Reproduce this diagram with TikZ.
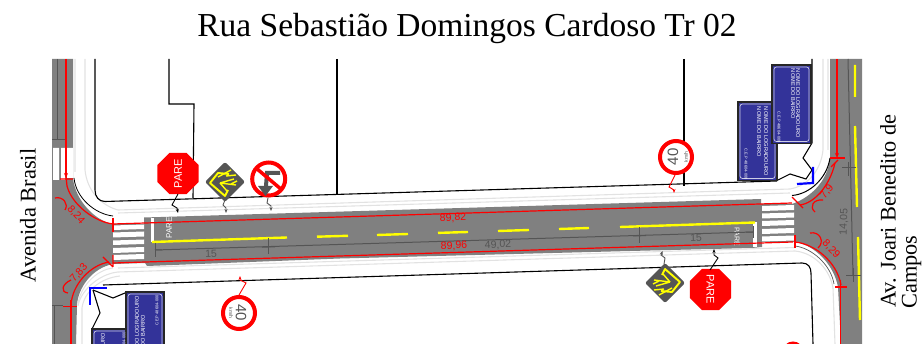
\documentclass[tikz,border=0pt]{standalone}
\usepackage{fontspec}
\setmainfont{Liberation Serif}
\setsansfont{Liberation Sans}
\usetikzlibrary{shapes.geometric,arrows.meta}
\definecolor{road}{HTML}{808080}
\definecolor{dimgr}{HTML}{555555}
\definecolor{plate}{HTML}{333399}
\definecolor{yel}{HTML}{FFFF00}
\definecolor{redd}{HTML}{FF0000}
\definecolor{kerb}{HTML}{E2E2E2}
\newcommand{\fs}[1]{\fontsize{#1}{#1}\selectfont}
\tikzset{
  every node/.style={inner sep=0pt,outer sep=0pt},
  yellowline/.style={yel,line width=2.4pt},
  redline/.style={redd,line width=1.2pt},
  redtip/.style={redd,line width=1.2pt,-{Stealth[length=5pt,width=4pt]}},
  redlabel/.style={text=redd,font=\sffamily\fs{10.5}},
  greylabel/.style={text=dimgr,font=\sffamily\fs{10.5}},
  greyline/.style={dimgr,line width=1pt},
  kerbline/.style={kerb,line width=1.1pt},
  blackline/.style={black,line width=1.1pt},
  blueline/.style={blue,line width=2.2pt},
  stopsign/.style={regular polygon,regular polygon sides=8,fill=redd,minimum size=38.5pt,text=white,font=\sffamily\fs{11}},
  speedring/.style={circle,draw=redd,line width=4pt,fill=white,minimum size=32pt},
  leader/.style={black,line width=.9pt},
  platetext/.style={text=white,font=\sffamily\fs{5.6},anchor=west},
  platetextsmall/.style={text=white,font=\sffamily\fs{4},anchor=west},
  warnsign/.pic={
    \fill[dimgr,rounded corners=2pt] (-20,0)--(0,-20)--(20,0)--(0,20)--cycle;
    \draw[yel,line width=1.9pt,line join=round] (4,-8)--(-7,-9)--(-15,1)--(0,14)--(3,8);
    \draw[yel,line width=1.4pt] (-5,1)--(9,-3) (-5,1)--(11,3) (-5,1)--(2,9) (-7,-5)--(6,-12) (6,2)--(12,-1) (1,-6)--(11,-7);
  }
}
\begin{document}
\begin{tikzpicture}[x=1pt,y=-1pt]
\useasboundingbox (0,0) rectangle (922,344);
\node (title) at (467,28) {\fs{33.5}Rua Sebastião Domingos Cardoso Tr 02};
\node[rotate=90] (avbrasil) at (28,215.5) {\fs{22.5}Avenida Brasil};
\node[rotate=90] (avjoari) at (888,211) {\fs{22.3}Av. Joari Benedito de};
\node[rotate=90] (campos) at (911.5,272) {\fs{22.3}Campos};
\begin{scope}
\clip (52,59) rectangle (862,344);
% road surface
\fill[road] (52,59)--(73,59)--(73,178) .. controls (75,200) and (95,221) .. (113,224)
  --(144,224)--(144,217.5)--(761,199)--(761,204)--(792,204) .. controls (812,197) and (828,180) .. (830,158)
  --(830,59)--(862,59)--(862,344)--(841,344)--(838,287) .. controls (834,265) and (815,245) .. (795,242)
  --(762,242)--(762,247)--(752,248)--(630,251)--(340,258.5)--(147,266)--(145,263)--(113,264)
  .. controls (92,268) and (78,288) .. (77,305)--(76,344)--(52,344)--cycle;
% upper-left crosswalk
\fill[white] (53,148) rectangle (59,180) (61,148) rectangle (65,180) (67,148) rectangle (73,178);
% main crosswalks
\fill[white] (113,225.5)--(144,224.5)--(144,229)--(113,230)--cycle
  (113,232.5)--(144,231.5)--(144,236.5)--(113,237.5)--cycle
  (113,240.5)--(144,239.5)--(144,244)--(113,245)--cycle
  (113,248)--(144,247)--(144,252)--(113,253)--cycle
  (113,255)--(144,254)--(144,259)--(113,260)--cycle;
\fill[white] (762,206)--(794,205)--(794,210)--(762,211)--cycle
  (762,213.5)--(794,212.5)--(794,217.5)--(762,218.5)--cycle
  (762,221)--(794,220)--(794,225)--(762,226)--cycle
  (762,229)--(794,228)--(794,233)--(762,234)--cycle
  (762,236.5)--(794,235.5)--(794,240.5)--(762,241.5)--cycle;
% stop bars
\fill[white] (151,218)--(154,218)--(154,242)--(151,242)--cycle;
\fill[white] (753,222)--(757,222)--(757,247)--(753,247)--cycle;
\node[rotate=90,text=white,font=\sffamily\fs{8}] (pareL) at (169,228) {PARE};
\node[rotate=-90,text=white,font=\sffamily\fs{7}] (pareR) at (737,237) {PARE};
% kerb lines
\draw[kerbline] (118,210)--(790,189) (118,213)--(790,193);
\draw[kerbline] (118,268)--(795,247.5) (118,272)--(795,251);
\draw[kerbline] (75,59)--(75,172) (85,59)--(85,170) .. controls (87,190) and (100,205) .. (118,210);
\draw[kerbline] (823,59)--(823,150) .. controls (821,170) and (808,186) .. (790,189) (828,59)--(828,150);
\draw[kerbline] (120,276) .. controls (100,278) and (84,292) .. (82,308)--(82,344) (118,272) .. controls (98,274) and (80,292) .. (78,306);
\draw[kerbline] (795,251) .. controls (815,253) and (830,270) .. (833,288)--(835,344);
% kerb curves
\draw[black,line width=.8pt] (74,178) .. controls (76,198) and (95,214) .. (113,216);
\draw[black,line width=1pt] (792,195.5) .. controls (810,194) and (827,178) .. (830,158);
\draw[dimgr,line width=.7pt] (795,246) .. controls (812,248) and (831,265) .. (834,284);
\draw[kerb,line width=1pt] (113,268) .. controls (95,270) and (80,288) .. (78,304);
% blocks
\draw[blackline] (95,59)--(95,190) .. controls (95,197) and (99,201.5) .. (105,201.5)--(777,181);
\draw[blackline] (169,59)--(169,104)--(194,104)--(193,198);
\draw[blackline] (337,59)--(337,194);
\draw[blackline] (684,59)--(684,186);
\draw[blackline] (812,59)--(812,143)--(803,158)--(812,170)--(806,179)--(790,174)--(778,180);
\draw[blackline] (103,285)--(802,263) .. controls (808,263) and (811,267) .. (811,273)--(813,344);
\draw[blackline] (93,290)--(113,298)--(125,293);
\draw[blackline] (93,290)--(100,313)--(92,329);
% blue corners
\draw[blueline] (813,167)--(813,183)--(797,184);
\draw[blueline] (90,305)--(90,288)--(107,288);
% plates
\foreach \px/\py/\nm in {738/102/pa,772/65/pb}{
  \fill[plate,draw=black!85,line width=1.3pt] (\px,\py) rectangle ++(39,78.5);
  \draw[white!75!plate,line width=.7pt,rounded corners=2.5pt] (\px+2,\py+2) rectangle ++(35,74.5);
}
\node[platetext,rotate=-90] (pb1) at (798,69) {NOME DO LOGRADOURO};
\node[platetext,rotate=-90] (pb2) at (793,69) {NOME DO BAIRRO};
\node[platetextsmall,rotate=-90] (pb3) at (779,112) {C.E.P 48604-000};
\node[platetext,rotate=-90] (pa1) at (766,107) {NOME DO LOGRADOURO};
\node[platetext,rotate=-90] (pa2) at (759,107) {NOME DO BAIRRO};
\node[platetextsmall,rotate=-90] (pa3) at (746,149) {C.E.P 48604-000};
\foreach \px/\py/\nm in {92/329/pc,126/292/pd}{
  \fill[plate,draw=black!85,line width=1.3pt] (\px,\py) rectangle ++(38,78.5);
  \draw[white!75!plate,line width=.7pt,rounded corners=2.5pt] (\px+2,\py+2) rectangle ++(34,74.5);
}
\node[platetext,rotate=90] (pd1) at (137,365) {NOME DO LOGRADOURO};
\node[platetext,rotate=90] (pd2) at (143,365) {NOME DO BAIRRO};
\node[platetextsmall,rotate=90] (pd3) at (157,326) {C.E.P 48604-000};
\node[platetext,rotate=90] (pc1) at (103,402) {NOME DO LOGRADOURO};
\node[platetext,rotate=90] (pc2) at (109,402) {NOME DO BAIRRO};
\node[platetextsmall,rotate=90] (pc3) at (124,363) {C.E.P 48604-000};
% yellow centre line
\draw[yellowline] (152,242)--(287,237.5) (317,236.7)--(348,235.8) (377,235)--(408,234) (438,232.9)--(468,232)
  (498,231)--(529,230) (559,229)--(589,228) (620,227)--(755,222.5);
\draw[yellowline] (855,65)--(855,97) (855,126)--(857,207) (858,237)--(860,320);
% grey dimensions
\draw[greyline] (155,250)--(753,232);
\draw[greyline] (155,243)--(155,257) (268,238)--(268,254) (639,227)--(639,243) (753,226)--(753,238);
\draw[greyline] (262,247.2)--(275,246.8) (633,236)--(646,235.6) (155,250)--(162,249.8) (746,232.2)--(753,232);
\node[greylabel,rotate=1.8] (d15a) at (211,254) {15};
\node[greylabel,rotate=1.8] (d15b) at (696,238) {15};
\node[greylabel,rotate=1.8] (d4902) at (498,245) {49,02};
\draw[greyline] (848,59)--(853,276);
\draw[greyline] (842,168)--(856,168) (846,275.5)--(861,275.5) (848,162)--(848,176) (853,268)--(853,282);
\node[greylabel,rotate=88] (d1405) at (844,222) {14,05};
\draw[greyline] (57,59)--(57,140) (51,140)--(65,140);
\draw[greyline] (54,305)--(54,344) (51,306)--(63,306);
% red dimensions
\draw[redline] (113,224)--(792,203);
\draw[redline] (113,263)--(793,242);
\node[redlabel,rotate=1.8] (r8982) at (453,218) {89,82};
\node[redlabel,rotate=1.8] (r8996) at (454,246) {89,96};
\draw[redtip] (66,59)--(66,178);
\draw[redline] (60,179)--(73,179) (66,176)--(67,186);
\draw[redline] (67,186) .. controls (72,205) and (95,222) .. (113,224);
\draw[redline] (113,218)--(113,232);
\draw[redline] (55,198) .. controls (63,196) and (69,204) .. (65,210);
\node[redlabel,rotate=-48] (r824) at (76,215) {8,24};
\draw[redline] (103,257)--(113,267) (113,255)--(113,267);
\draw[redline] (109,262) .. controls (90,265) and (72,285) .. (71,305);
\draw[redline] (63,306.5)--(77,306.5) (71,300)--(71,344);
\draw[redline] (71,280) .. controls (62,284) and (60,292) .. (68,293);
\node[redlabel,rotate=48] (r783) at (79,273) {7,83};
\draw[redtip] (837,59)--(837,158);
\draw[redline] (830,158)--(845,158);
\draw[redline] (792,197)--(803,208) (831,167)--(838,160);
\draw[redline] (800,205) .. controls (815,203) and (830,185) .. (835,163);
\draw[redline] (823,200) .. controls (813,199) and (809,207) .. (815,212);
\node[redlabel,rotate=52] (r79) at (827,192) {7,9};
\draw[redline] (795,235)--(795,248);
\draw[redline] (795,242) .. controls (815,244) and (837,262) .. (841,285);
\draw[redline] (835,287)--(847,287) (840.5,280)--(840.5,344);
\draw[redline] (810,233) .. controls (820,231) and (825,242) .. (818,248);
\node[redlabel,rotate=-46] (r829) at (831,249) {8,29};
% signs
\node[stopsign,rotate=90] (stopA) at (178,173.5) {PARE};
\node[stopsign,rotate=-90] (stopB) at (710.5,289.5) {PARE};
\path pic (warnA) at (225,182) {warnsign};
\path pic[rotate=180] (warnB) at (665,283) {warnsign};
\node[circle,draw=redd,line width=4pt,fill=white,minimum size=33pt] (noturn) at (268.7,179) {};
\draw[dimgr,line width=4pt] (280,173)--(267,173)--(266,186);
\fill[dimgr] (258,186)--(273,186)--(265.5,196)--cycle;
\draw[redd,line width=3.5pt] (256,168)--(282,190);
\node[speedring] (sixA) at (676,157) {};
\node[rotate=90,text=dimgr,font=\sffamily\fs{15}] (txtA) at (673,157) {40};
\node[rotate=90,text=dimgr,font=\sffamily\fs{5}] (kmA) at (686,157) {km/h};
\node[speedring] (sixB) at (239,313) {};
\node[rotate=-90,text=dimgr,font=\sffamily\fs{15}] (txtB) at (241,313) {40};
\node[rotate=-90,text=dimgr,font=\sffamily\fs{5}] (kmB) at (231,313) {km/h};
\draw[redd,line width=3pt] (793,352) circle (9pt);
% leaders
\coordinate (tipA) at (178,213);
\coordinate (tipB) at (226,213);
\coordinate (tipC) at (271,211);
\coordinate (tipD) at (674,193);
\coordinate (tipE) at (240,276);
\coordinate (tipF) at (662.5,251);
\coordinate (tipG) at (714,249);
\draw[leader,-{Stealth[length=4pt,width=3pt]}] (178,194)--(172,205)--(177,208)--(tipA);
\draw[dimgr,line width=.9pt,-{Stealth[length=4pt,width=3pt]}] (225,200)--(223,205)--(226,208)--(tipB);
\draw[dimgr,line width=.9pt,-{Stealth[length=4pt,width=3pt]}] (268,198)--(267,203)--(271,206)--(tipC);
\draw[redd,line width=.9pt,-{Stealth[length=4pt,width=3pt]}] (675,175)--(669,187)--(674,190)--(tipD);
\draw[redd,line width=.9pt,-{Stealth[length=4pt,width=3pt]}] (239,295)--(246,283)--(240,280)--(tipE);
\draw[dimgr,line width=.9pt,-{Stealth[length=4pt,width=3pt]}] (664,264)--(665,258)--(661,255)--(tipF);
\draw[leader,-{Stealth[length=4pt,width=3pt]}] (710,270)--(718,258)--(714,255)--(tipG);
\end{scope}
\end{tikzpicture}
\end{document}
